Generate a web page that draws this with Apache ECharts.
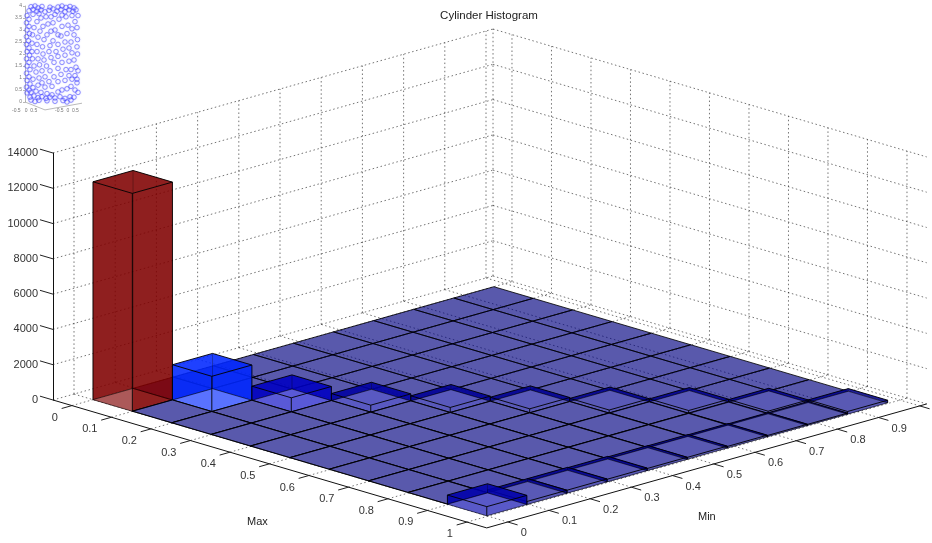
<!DOCTYPE html>
<html><head><meta charset="utf-8">
<style>html,body{margin:0;padding:0;background:#fff}#c{width:932px;height:543px}</style>
<script src="https://cdn.jsdelivr.net/npm/echarts@6/dist/echarts.min.js"></script>
</head><body><div id="c"></div>
<script>
// ---- data ----
var titleText = 'Cylinder Histogram';
var maxName = 'Max', minName = 'Min';
var zTicks = [0,2000,4000,6000,8000,10000,12000,14000];
var maxTicks = [0,0.1,0.2,0.3,0.4,0.5,0.6,0.7,0.8,0.9,1];
var minTicks = [0,0.1,0.2,0.3,0.4,0.5,0.6,0.7,0.8,0.9,1];
var minLabelled = ['0','0.1','0.2','0.3','0.4','0.5','0.6','0.7','0.8','0.9'];
// bin edges as placed on the axes
var maxEdges = [0,0.0997,0.1994,0.2991,0.3988,0.4985,0.5982,0.6979,0.7976,0.8973,0.997];
var minEdges = [0,0.0973,0.1946,0.2919,0.3892,0.4865,0.5838,0.6811,0.7784,0.8757,0.973];
// rows: Max bin, columns: Min bin
var row0 = [12350,0,0,0,0,0,0,0,0,0];
var row1 = [10,2000,0,0,0,0,0,0,0,0];
var row2 = [10,10,800,0,0,0,0,0,0,0];
var row3 = [10,10,10,400,0,0,0,0,0,0];
var row4 = [10,10,10,10,290,0,0,0,0,0];
var row5 = [10,10,10,10,10,230,0,0,0,0];
var row6 = [10,10,10,10,10,10,180,0,0,0];
var row7 = [10,10,10,10,10,20,20,170,0,0];
var row8 = [10,15,15,15,15,15,20,30,150,0];
var row9 = [520,170,170,150,120,110,90,70,60,150];
var histogram = [row0,row1,row2,row3,row4,row5,row6,row7,row8,row9];
// inset scatter, [horizontal position, height]
var insetTop = [[6,3.97],[10,4],[13,3.92],[17,3.98],[21,4.02],[25,3.95],[29,4.02],[33,3.96],[37,4],[41,3.94],[45,3.98],[49,3.92],[4,3.8],[8,3.86],[12,3.78],[16,3.84],[20,3.76],[24,3.82],[28,3.88],[32,3.78],[36,3.85],[40,3.76],[44,3.84],[48,3.78],[51,3.84],[8,3.65],[14,3.68],[30,3.65],[37,3.62]];
var insetBottom = [[5,0.2],[9,0.25],[13,0.18],[17,0.22],[21,0.15],[25,0.2],[30,0.17],[35,0.22],[40,0.15],[45,0.22],[49,0.2],[6,0.08],[10,0.02],[14,0.07],[18,-0.02],[22,0.05],[26,-0.05],[30,0.03],[34,-0.02],[38,0.06],[42,0],[46,0.08],[9,-0.06],[13,-0.1],[17,-0.12],[21,-0.14],[25,-0.16],[29,-0.14],[33,-0.12],[37,-0.09],[41,-0.06]];
var insetLeft = [[2,3.6],[4,3.45],[1.5,3.3],[4,3.15],[2,3],[4.5,2.85],[1.5,2.72],[3.5,2.55],[1.5,2.4],[4,2.25],[2,2.1],[4.5,1.95],[1.5,1.8],[4,1.65],[2,1.5],[5,1.35],[1.5,1.2],[4,1.05],[2,0.9],[5,0.75],[1.5,0.62],[4,0.5],[2,0.38],[6,0.4],[8,0.95],[8,0.6],[11,0.45],[13,0.7],[16,0.4],[22,0.35],[27,0.3]];
var insetRight = [[47,3.6],[50,3.35],[47,3.05],[49,2.8],[46,2.5],[44,2.25],[47,2.05],[49,1.75],[51,1.45],[50,1.1],[52,0.8],[50,0.5],[46,0.65],[42,0.55],[37,0.5],[33,0.42],[52,3.1],[52.5,2.6],[52,2.3],[52.5,2],[53,1.3],[52,0.95],[53,3.6],[53,0.4]];
var insetArcA = [[26,3.55],[21,3.55],[16,3.5],[12,3.35],[9,3.1],[7.5,2.8],[7,2.45],[7,2.1],[7.5,1.8],[9,1.5],[11,1.25],[14,1],[17,0.8],[20,0.62]];
var insetArcB = [[28,3.3],[23,3.25],[18,3.15],[15,2.95],[13,2.7],[12,2.4],[12,2.1],[13,1.8],[14.5,1.55],[17,1.3],[20,1.05],[24,0.85],[27,0.65]];
var insetArcC = [[30,3],[26,2.95],[22,2.8],[19,2.6],[17.5,2.3],[18,2],[19,1.75],[21.5,1.5],[25,1.3],[29,1.05],[33,0.85]];
var insetArcD = [[33,2.8],[28,2.55],[25,2.35],[24,2.1],[26,1.85],[29,1.65],[33,1.4],[36,1.15],[40,0.9]];
var insetArcE = [[34,3.45],[37,3.15],[36,2.75],[33,2.4],[31,2.1],[33,1.9],[37,1.65],[41,1.35],[44,1.1]];
var insetArcF = [[41,3.55],[43,3.2],[42,2.85],[40,2.5],[38,2.2],[40,1.95],[44,1.7],[46,1.35],[47,0.95]];
var insetData = [].concat(insetTop,insetBottom,insetLeft,insetRight,insetArcA,insetArcB,insetArcC,insetArcD,insetArcE,insetArcF);

// ---- view of the 3D box ----
var zTop = 14000, zPx = 247;
var maxLo = -0.048, maxHi = 1.05, minLo = -0.051, minHi = 1.017;
var maxVec = [395,116.5], minVec = [412,-116.1];
var fa = 0.65;
function P(api, mx, mn, z){
  var dm = mx - maxLo, dn = mn - minLo;
  return api.coord([dm*maxVec[0] + dn*minVec[0], z - (dm*maxVec[1] + dn*minVec[1])*zTop/zPx]);
}
function jet(t){
  function c(x){ return Math.max(0, Math.min(1, x)); }
  return [c(1.5-Math.abs(4*t-3)), c(1.5-Math.abs(4*t-2)), c(1.5-Math.abs(4*t-1))].map(function(v){return Math.round(v*255);});
}
var peak = 12350;
function renderFrame(params, api){
  var ch = [];
  var dot = {stroke:'rgba(30,30,30,0.62)', lineWidth:1, lineDash:[1.5,2.6], fill:null};
  function L(a,b,st){ ch.push({type:'line', shape:{x1:a[0],y1:a[1],x2:b[0],y2:b[1]}, style:st}); }
  zTicks.forEach(function(z){
    L(P(api,maxLo,minLo,z), P(api,maxLo,minHi,z), dot);
    L(P(api,maxLo,minHi,z), P(api,maxHi,minHi,z), dot);
  });
  minTicks.forEach(function(m){
    L(P(api,maxLo,m,0), P(api,maxLo,m,zTop), dot);
    L(P(api,maxLo,m,0), P(api,maxHi,m,0), dot);
  });
  maxTicks.forEach(function(m){
    L(P(api,m,minHi,0), P(api,m,minHi,zTop), dot);
    L(P(api,m,minLo,0), P(api,m,minHi,0), dot);
  });
  L(P(api,maxLo,minHi,0), P(api,maxLo,minHi,zTop), dot);
  var solid = {stroke:'#111', lineWidth:1, fill:null};
  var tickS = {stroke:'#222', lineWidth:1, fill:null};
  L(P(api,maxLo,minLo,0), P(api,maxHi,minLo,0), solid);
  L(P(api,maxHi,minLo,0), P(api,maxHi,minHi,0), solid);
  zTicks.forEach(function(z){ L(P(api,maxLo,minLo,z), P(api,maxLo-0.033,minLo,z), tickS); });
  var font = '11px "Liberation Sans", Arial, sans-serif';
  maxTicks.forEach(function(m){
    var a = P(api,m,minLo,0);
    L(a, P(api,m,minLo-0.025,0), tickS);
    ch.push({type:'text', style:{text:String(m), x:a[0]-14, y:a[1]+12, font:font, fill:'#333', align:'right', verticalAlign:'middle'}});
  });
  minTicks.forEach(function(m,idx){
    var a = P(api,maxHi,m,0);
    L(a, P(api,maxHi+0.025,m,0), tickS);
    if(minLabelled[idx]) ch.push({type:'text', style:{text:minLabelled[idx], x:a[0]+13, y:a[1]+11, font:font, fill:'#333', align:'left', verticalAlign:'middle'}});
  });
  return {type:'group', children:ch};
}
function renderBar(params, api){
  var i = api.value(0), j = api.value(1), v = api.value(2);
  var col = jet(v/peak);
  var fillA = 'rgba('+col.join(',')+','+fa+')';
  var solidC = 'rgb('+col.map(function(c){return Math.round(255*(1-fa)+c*fa);}).join(',')+')';
  var m0 = maxEdges[i], m1 = maxEdges[i+1], n0 = minEdges[j], n1 = minEdges[j+1];
  var b = [P(api,m0,n0,0),P(api,m1,n0,0),P(api,m1,n1,0),P(api,m0,n1,0)];
  var t = [P(api,m0,n0,v),P(api,m1,n0,v),P(api,m1,n1,v),P(api,m0,n1,v)];
  var ch = [];
  function poly(pts, fill){ ch.push({type:'polygon', shape:{points:pts}, style:{fill:fill, stroke:null}}); }
  function line(pts, a){ ch.push({type:'polyline', shape:{points:pts}, style:{fill:null, stroke:'rgba(0,0,0,'+a+')', lineWidth:1}}); }
  var edge = 0.82;
  if(v === 0){
    poly(b, fillA);
    line(b.concat([b[0]]), edge);
    return {type:'group', children:ch};
  }
  poly([b[0],b[3],t[3],t[0]], fillA);
  poly([b[3],b[2],t[2],t[3]], fillA);
  poly(t, fillA);
  poly([b[0],b[1],t[1],t[0]], fillA);
  poly([b[1],b[2],t[2],t[1]], fillA);
  if(v === peak){ poly([b[0],b[1],b[3]], solidC); poly([b[1],b[2],b[3]], fillA); }
  else poly(b, solidC);
  line(b.concat([b[0]]), 0.55);
  [0,1,2,3].forEach(function(k){ line([b[k],t[k]], (k===0||k===2||k===1)?0.9:0.3); });
  line([t[0],t[1],t[2]], 0.9);
  line([t[2],t[3],t[0]], 0.9);
  return {type:'group', children:ch};
}
var barData = [];
histogram.forEach(function(r,i){ r.forEach(function(v,j){ barData.push([i,j,v]); }); });
barData.sort(function(a,b){ return (a[0]-a[1])-(b[0]-b[1]); });
function renderInsetBox(params, api){
  var s = {stroke:'rgba(90,90,90,0.6)', lineWidth:0.7, fill:null};
  var a = api.coord([0,0]), b = api.coord([20,-0.33]), c = api.coord([57,-0.05]);
  return {type:'group', children:[
    {type:'polyline', shape:{points:[a,b,c]}, style:s},
    {type:'text', style:{text:'-0.5   0  0.5', x:a[0]-13, y:a[1]+6, font:'5px "Liberation Sans"', fill:'#777'}},
    {type:'text', style:{text:'-0.5  0  0.5', x:b[0]+10, y:b[1]-2, font:'5px "Liberation Sans"', fill:'#777'}}
  ]};
}
var chart = echarts.init(document.getElementById('c'), null, {renderer:'canvas'});
var ff = '"Liberation Sans", Arial, sans-serif';
chart.setOption({
  animation:false, backgroundColor:'#fff',
  title:[
    {text:titleText, left:489, top:10, textAlign:'center', padding:0, textStyle:{fontSize:11.5, fontWeight:'normal', color:'#222', fontFamily:ff}},
    {text:maxName, left:247, top:516, padding:0, textStyle:{fontSize:11, fontWeight:'normal', color:'#222', fontFamily:ff}},
    {text:minName, left:698, top:511, padding:0, textStyle:{fontSize:11, fontWeight:'normal', color:'#222', fontFamily:ff}}
  ],
  grid:[
    {left:53, top:153, width:879, height:zPx, containLabel:false},
    {left:25, top:6, width:55, height:96, containLabel:false}
  ],
  xAxis:[
    {gridIndex:0, type:'value', min:0, max:879, show:false},
    {gridIndex:1, type:'value', min:0, max:55, show:false}
  ],
  yAxis:[
    {gridIndex:0, type:'value', min:0, max:zTop, interval:2000, splitLine:{show:false}, axisTick:{show:false},
     axisLine:{show:true, lineStyle:{color:'#111', width:1}},
     axisLabel:{show:true, margin:15, color:'#333', fontSize:11, fontFamily:ff, padding:[0,0,6,0], formatter:function(v){return String(v);}}},
    {gridIndex:1, type:'value', min:0, max:4, interval:0.5, splitLine:{show:false},
     axisTick:{show:true, length:2, lineStyle:{color:'#888', width:0.6}},
     axisLine:{show:true, lineStyle:{color:'#999', width:0.7}},
     axisLabel:{show:true, margin:3, color:'#777', fontSize:5, fontFamily:ff, formatter:function(v){return String(v);}}}
  ],
  series:[
    {type:'custom', xAxisIndex:0, yAxisIndex:0, silent:true, data:[[0,0]], renderItem:renderFrame, z:2},
    {type:'custom', xAxisIndex:0, yAxisIndex:0, silent:true, data:barData, renderItem:renderBar, z:3, encode:{x:0,y:2}},
    {type:'custom', xAxisIndex:1, yAxisIndex:1, silent:true, data:[[0,0]], renderItem:renderInsetBox, z:2},
    {type:'scatter', xAxisIndex:1, yAxisIndex:1, silent:true, data:insetData, symbol:'circle', symbolSize:4.6, z:3,
     itemStyle:{color:'rgba(255,255,255,0)', borderColor:'rgba(60,60,255,0.6)', borderWidth:1, shadowBlur:1.5, shadowColor:'rgba(80,80,255,0.7)'}}
  ]
});
</script></body></html>
